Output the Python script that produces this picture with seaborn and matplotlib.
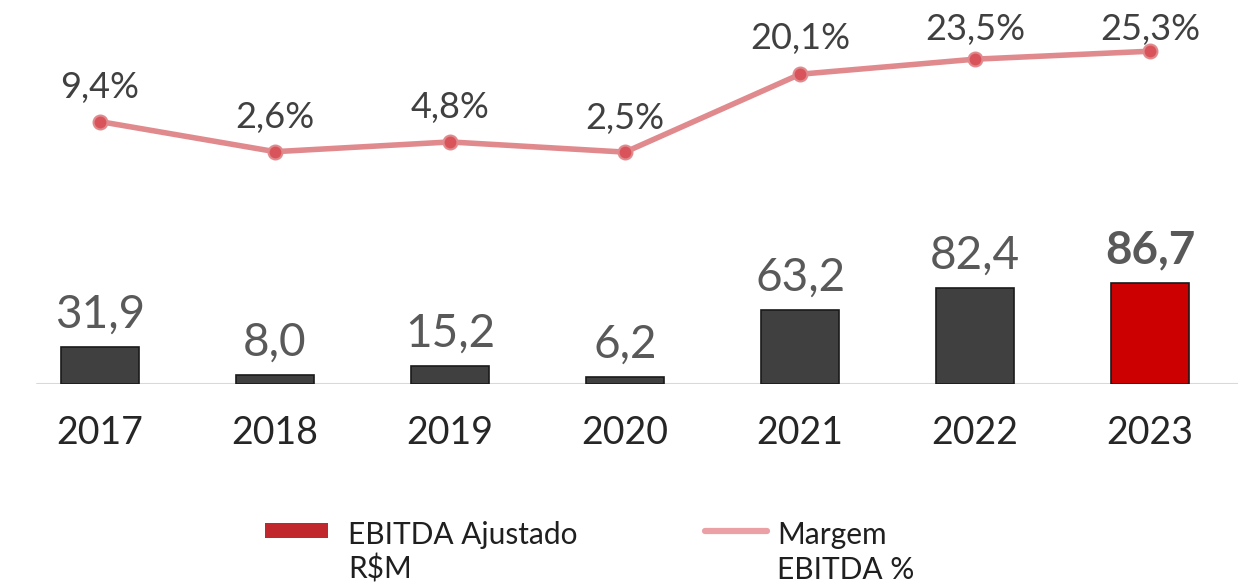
import numpy as np
import seaborn as sns
import matplotlib.pyplot as plt
from matplotlib.patches import Rectangle
from matplotlib.lines import Line2D

sns.set_style('white')
plt.rcParams['font.family'] = ['Lato', 'DejaVu Sans']

# dados
anos = ['2017', '2018', '2019', '2020', '2021', '2022', '2023']
ebitda = [31.9, 8.0, 15.2, 6.2, 63.2, 82.4, 86.7]
margem = [9.4, 2.6, 4.8, 2.5, 20.1, 23.5, 25.3]
ebitda_txt = ['31,9', '8,0', '15,2', '6,2', '63,2', '82,4', '86,7']
margem_txt = ['9,4%', '2,6%', '4,8%', '2,5%', '20,1%', '23,5%', '25,3%']
cores = ['#404040'] * 6 + ['#cc0000']

W, H = 1240, 583
fig = plt.figure(figsize=(12.4, 5.83), dpi=100)
ax = fig.add_axes([0.0101, 0.3413, 0.988, 0.624])

# barras
sns.barplot(x=anos, y=ebitda, hue=anos, palette=cores, legend=False,
            saturation=1, width=0.445, edgecolor='#1a1a1a', linewidth=1.2, ax=ax)
ax.set_ylim(0, 312.5)
ax.set_xlim(-0.5, 6.5)
ax.axhline(0, xmin=0.02, xmax=1, color='#d9d9d9', lw=1.5, zorder=0)

for i, (v, t) in enumerate(zip(ebitda, ebitda_txt)):
    ax.annotate(t, (i, v), xytext=(0, 14), textcoords='offset points',
                ha='center', va='baseline', fontsize=33, color='#595959',
                fontweight='bold' if i == 6 else 'normal')

for s in ax.spines.values():
    s.set_visible(False)
ax.set_yticks([])
ax.tick_params(axis='x', length=0, labelsize=27, labelcolor='#262626', pad=22)
ax.set_xlabel('')
ax.set_ylabel('')

# linha da margem
ax2 = ax.twinx()
sns.lineplot(x=np.arange(len(anos)), y=margem, ax=ax2, color='#e08a8e',
             lw=4, marker='o', markersize=10, markerfacecolor='#d9545a',
             markeredgecolor='#e08a8e', markeredgewidth=1.5)
ax2.set_ylim(-49.9, 32.3)
ax2.set_yticks([])
for s in ax2.spines.values():
    s.set_visible(False)

offs = [17, 17, 17, 17, 18, 14, 8]
for i, (v, t) in enumerate(zip(margem, margem_txt)):
    ax2.annotate(t, (i, v), xytext=(0, offs[i]), textcoords='offset points',
                 ha='center', va='baseline', fontsize=26, color='#404040')

# legenda (desenhada manualmente)
fig.add_artist(Rectangle((265 / W, 1 - 538 / H), 63 / W, 15 / H,
                         transform=fig.transFigure, facecolor='#c0282e',
                         edgecolor='none'))
fig.add_artist(Line2D([705 / W, 767 / W], [1 - 531 / H] * 2,
                      transform=fig.transFigure, color='#eba0a5', lw=4.5))
leg_txt = [(348, ['EBITDA Ajustado', 'R$M']), (777, ['Margem', 'EBITDA %'])]
for x0, linhas in leg_txt:
    for k, linha in enumerate(linhas):
        fig.text(x0 / W, 1 - (544 + 35 * k) / H, linha, fontsize=21.5,
                 color='#1f1f1f', ha='left', va='baseline')

plt.savefig('out.png', dpi=100)
